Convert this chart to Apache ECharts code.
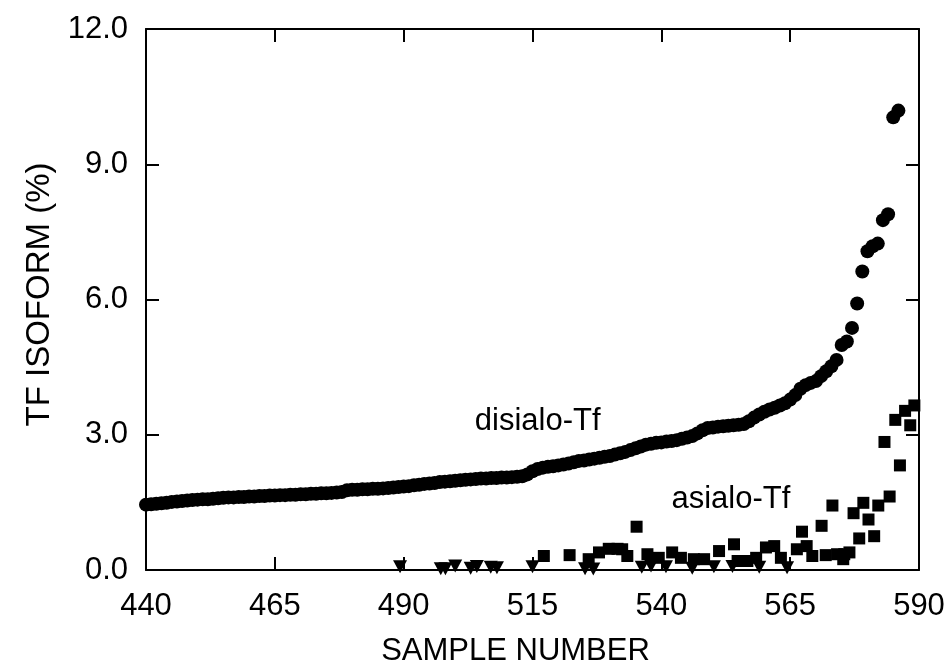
<!DOCTYPE html>
<html><head><meta charset="utf-8">
<script src="https://cdn.jsdelivr.net/npm/echarts@6/dist/echarts.min.js"></script>
<style>html,body{margin:0;padding:0;background:#fff}#c{width:950px;height:672px}</style>
</head><body><div id="c"></div>
<script>
const xTicks = [440, 465, 490, 515, 540, 565, 590];
const yTicks = [0, 3, 6, 9, 12];
const firstSample = 440;
// disialo-Tf, one value per sample from 440 upward
const disialoValues = [
1.45,1.46,1.47,1.48,1.49,1.51,1.52,1.53,1.54,1.55,
1.56,1.57,1.57,1.58,1.59,1.60,1.61,1.61,1.62,1.62,
1.63,1.63,1.64,1.64,1.65,1.65,1.66,1.66,1.67,1.67,
1.68,1.68,1.69,1.69,1.70,1.70,1.71,1.72,1.73,1.77,
1.78,1.78,1.79,1.79,1.80,1.80,1.81,1.82,1.83,1.84,
1.85,1.86,1.88,1.89,1.91,1.92,1.93,1.95,1.96,1.97,
1.98,1.99,2.00,2.01,2.02,2.03,2.03,2.04,2.04,2.05,
2.05,2.06,2.07,2.08,2.12,2.19,2.24,2.27,2.29,2.30,
2.32,2.34,2.36,2.39,2.42,2.43,2.45,2.47,2.49,2.51,
2.53,2.56,2.59,2.62,2.66,2.70,2.74,2.78,2.80,2.82,
2.83,2.85,2.86,2.88,2.91,2.94,2.97,3.03,3.10,3.15,
3.16,3.18,3.19,3.20,3.21,3.22,3.24,3.30,3.38,3.45,
3.51,3.56,3.60,3.65,3.70,3.78,3.88,4.02,4.10,4.15,
4.19,4.30,4.41,4.52,4.66,4.99,5.07,5.37,5.91,6.62,
7.07,7.18,7.24,7.76,7.89,10.04,10.19
];
// asialo-Tf
const asialoSamples = [517.2,522.2,525.9,527.9,529.8,531.5,532.4,533.4,535.2,537.3,
539.5,542.1,543.8,546.3,548.3,551.2,554.1,554.8,556.7,558.4,
560.3,561.9,563.2,566.3,567.3,568.2,569.3,571.1,571.9,573.2,
574.1,575.3,575.5,576.5,577.3,578.4,579.2,580.2,581.3,582.1,
583.3,584.3,585.4,586.3,587.3,588.3,589.1];
const asialoValues = [0.31,0.33,0.24,0.39,0.47,0.47,0.46,0.31,0.96,0.35,
0.27,0.39,0.27,0.24,0.24,0.42,0.57,0.20,0.20,0.27,
0.50,0.53,0.27,0.46,0.85,0.53,0.31,0.98,0.33,1.43,
0.35,0.24,0.35,0.39,1.26,0.70,1.49,1.12,0.75,1.43,
2.84,1.63,3.33,2.32,3.53,3.21,3.65];
// third isoform (triangles)
const triSamples = [489.3,497.2,498.1,500.0,503.0,504.2,506.9,508.1,515.0,525.2,
526.8,536.2,538.0,540.9,546.0,550.2,553.8,559.0,564.4];
const triValues = [0.07,0.03,0.03,0.09,0.04,0.08,0.06,0.05,0.07,0.03,
0.02,0.06,0.09,0.07,0.04,0.07,0.08,0.06,0.05];

const FONT = "'Liberation Sans', Arial, sans-serif";
const chart = echarts.init(document.getElementById('c'), null, {renderer: 'canvas'});

const disialoData = disialoValues.map((v, i) => [firstSample + i, v]);
const asialoData = asialoSamples.map((s, i) => [s, asialoValues[i]]);
const triData = triSamples.map((s, i) => [s, triValues[i]]);

const axisLine = {show: true, onZero: false, lineStyle: {color: '#000', width: 2}};
const tick = {show: true, inside: true, length: 13, lineStyle: {color: '#000', width: 2}};

chart.setOption({
  backgroundColor: '#fff',
  animation: false,
  grid: {left: 146, right: 31, top: 29, bottom: 102, containLabel: false},
  xAxis: [{
    type: 'value', min: 440, max: 590, position: 'bottom',
    name: 'SAMPLE NUMBER', nameLocation: 'middle', nameGap: 66,
    nameTextStyle: {fontFamily: FONT, fontSize: 31, color: '#000', padding: [0, 34, 0, 0]},
    axisLine: axisLine,
    axisTick: Object.assign({customValues: xTicks}, tick),
    axisLabel: {customValues: xTicks, margin: 21, fontFamily: FONT, fontSize: 31, color: '#000'},
    splitLine: {show: false}
  }, {
    type: 'value', min: 440, max: 590, position: 'top',
    axisLine: axisLine,
    axisTick: Object.assign({customValues: xTicks}, tick),
    axisLabel: {show: false, customValues: xTicks},
    splitLine: {show: false}
  }],
  yAxis: [{
    type: 'value', min: 0, max: 12, interval: 3, position: 'left',
    name: 'TF ISOFORM (%)', nameLocation: 'middle', nameGap: 87,
    nameTextStyle: {fontFamily: FONT, fontSize: 33, color: '#000', padding: [0, 0, 0, 10]},
    axisLine: axisLine, axisTick: tick,
    axisLabel: {margin: 18, fontFamily: FONT, fontSize: 31, color: '#000', formatter: v => v.toFixed(1)},
    splitLine: {show: false}
  }, {
    type: 'value', min: 0, max: 12, interval: 3, position: 'right',
    axisLine: axisLine, axisTick: tick,
    axisLabel: {show: false},
    splitLine: {show: false}
  }],
  series: [{
    name: 'asialo-Tf', type: 'scatter', symbol: 'rect', symbolSize: 12,
    itemStyle: {color: '#000', opacity: 1}, data: asialoData, z: 2
  }, {
    name: 'other', type: 'scatter', symbol: 'triangle', symbolRotate: 180, symbolSize: [14, 13],
    itemStyle: {color: '#000', opacity: 1}, data: triData, z: 2
  }, {
    name: 'disialo-Tf', type: 'scatter', symbol: 'circle', symbolSize: 14,
    itemStyle: {color: '#000', opacity: 1}, data: disialoData, z: 3
  }]
});

const p1 = chart.convertToPixel({xAxisIndex: 0, yAxisIndex: 0}, [516, 3.30]);
const p2 = chart.convertToPixel({xAxisIndex: 0, yAxisIndex: 0}, [553.5, 1.57]);
chart.setOption({
  graphic: [{
    type: 'text', x: p1[0], y: p1[1],
    style: {text: 'disialo-Tf', font: '31px ' + FONT, fill: '#000', align: 'center', verticalAlign: 'middle'}
  }, {
    type: 'text', x: p2[0], y: p2[1],
    style: {text: 'asialo-Tf', font: '31px ' + FONT, fill: '#000', align: 'center', verticalAlign: 'middle'}
  }]
});
</script>
</body></html>
